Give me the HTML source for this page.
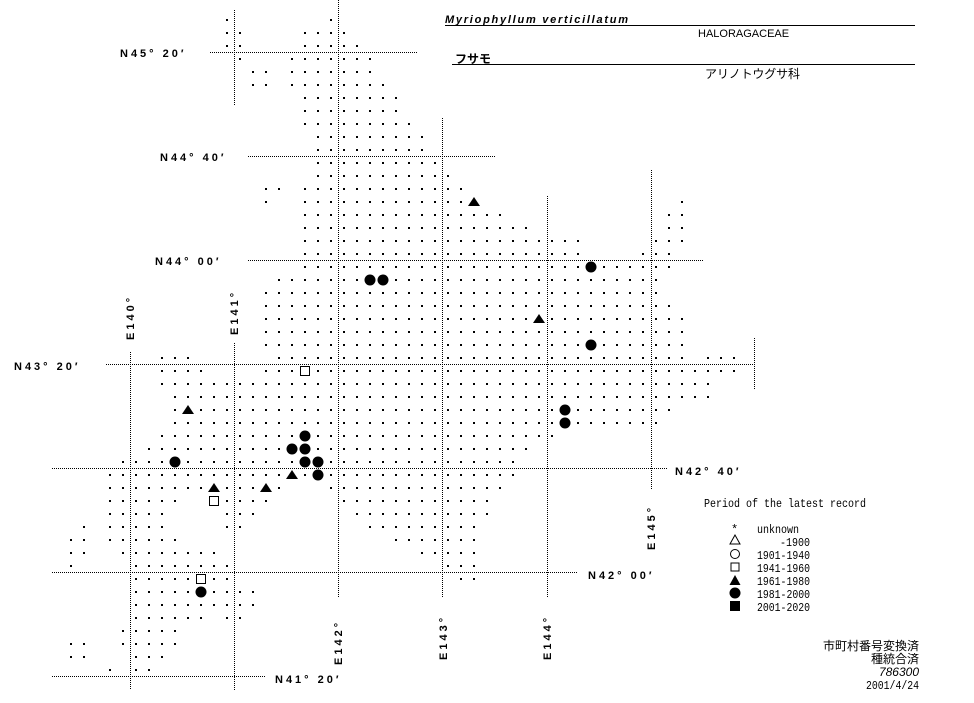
<!DOCTYPE html>
<html><head><meta charset="utf-8"><style>
html,body{margin:0;padding:0;background:#fff;}
svg{display:block}
.lab{font-family:"Liberation Sans",sans-serif;font-weight:bold;font-size:11px;letter-spacing:3px;fill:#000}
.mono{font-family:"Liberation Mono","Noto Sans CJK JP",monospace;font-size:12px;fill:#000}
.jp{font-family:"Liberation Sans","Noto Sans CJK JP",sans-serif;font-size:12px;fill:#000}
</style></head><body>
<svg id="s" width="974" height="703" viewBox="0 0 974 703" xmlns="http://www.w3.org/2000/svg">
<g stroke="#000" stroke-width="1" stroke-dasharray="1,1" fill="none">
<line x1="210" y1="52.5" x2="417" y2="52.5"/>
<line x1="248" y1="156.5" x2="495" y2="156.5"/>
<line x1="248" y1="260.5" x2="703" y2="260.5"/>
<line x1="106" y1="364.5" x2="754" y2="364.5"/>
<line x1="52" y1="468.5" x2="668" y2="468.5"/>
<line x1="52" y1="572.5" x2="577" y2="572.5"/>
<line x1="52" y1="676.5" x2="265" y2="676.5"/>
<line x1="130.5" y1="352" x2="130.5" y2="690"/>
<line x1="234.5" y1="10" x2="234.5" y2="105"/>
<line x1="234.5" y1="343" x2="234.5" y2="690"/>
<line x1="338.5" y1="0" x2="338.5" y2="598"/>
<line x1="442.5" y1="118" x2="442.5" y2="598"/>
<line x1="547.5" y1="196" x2="547.5" y2="598"/>
<line x1="651.5" y1="170" x2="651.5" y2="490"/>
<line x1="754.5" y1="338" x2="754.5" y2="390"/>
</g>
<g id="dots" fill="#000"></g>
<g id="sym" fill="#000"></g>
<text class="lab" x="120" y="57">N45° 20′</text>
<text class="lab" x="160" y="161">N44° 40′</text>
<text class="lab" x="155" y="265">N44° 00′</text>
<text class="lab" x="14" y="370">N43° 20′</text>
<text class="lab" x="675" y="475">N42° 40′</text>
<text class="lab" x="588" y="579">N42° 00′</text>
<text class="lab" x="275" y="683">N41° 20′</text>
<text class="lab" transform="translate(134,340) rotate(-90)">E140°</text>
<text class="lab" transform="translate(238,335) rotate(-90)">E141°</text>
<text class="lab" transform="translate(342,665) rotate(-90)">E142°</text>
<text class="lab" transform="translate(447,660) rotate(-90)">E143°</text>
<text class="lab" transform="translate(551,660) rotate(-90)">E144°</text>
<text class="lab" transform="translate(655,550) rotate(-90)">E145°</text>
<text x="445" y="23" font-family="Liberation Sans" font-weight="bold" font-style="italic" font-size="11" fill="#000" textLength="183">Myriophyllum verticillatum</text>
<line x1="445" y1="25.5" x2="915" y2="25.5" stroke="#000"/>
<text x="698" y="37" font-family="Liberation Sans" font-size="11" fill="#000">HALORAGACEAE</text>
<text class="jp" x="455" y="63" font-weight="bold">フサモ</text>
<line x1="452" y1="64.5" x2="915" y2="64.5" stroke="#000"/>
<text class="jp" x="705" y="78" textLength="95">アリノトウグサ科</text>
<text class="mono" x="704" y="507" textLength="162" lengthAdjust="spacingAndGlyphs">Period of the latest record</text>
<text class="mono" x="731" y="533">*</text>
<text class="mono" x="757" y="533" textLength="42" lengthAdjust="spacingAndGlyphs">unknown</text>
<text class="mono" x="810" y="546" text-anchor="end" textLength="30" lengthAdjust="spacingAndGlyphs">-1900</text>
<text class="mono" x="757" y="559" textLength="53" lengthAdjust="spacingAndGlyphs">1901-1940</text>
<text class="mono" x="757" y="572" textLength="53" lengthAdjust="spacingAndGlyphs">1941-1960</text>
<text class="mono" x="757" y="585" textLength="53" lengthAdjust="spacingAndGlyphs">1961-1980</text>
<text class="mono" x="757" y="598" textLength="53" lengthAdjust="spacingAndGlyphs">1981-2000</text>
<text class="mono" x="757" y="611" textLength="53" lengthAdjust="spacingAndGlyphs">2001-2020</text>
<polygon points="735,535 730,544 740,544" fill="none" stroke="#000"/>
<circle cx="735" cy="554" r="4.5" fill="none" stroke="#000"/>
<rect x="731" y="563" width="8" height="8" fill="none" stroke="#000"/>
<polygon points="735,575 729.5,585 740.5,585" fill="#000"/>
<circle cx="735" cy="593" r="5.5" fill="#000"/>
<rect x="730" y="601" width="10" height="10" fill="#000"/>
<text class="jp" x="919" y="650" text-anchor="end">市町村番号変換済</text>
<text class="jp" x="919" y="663" text-anchor="end">種統合済</text>
<text class="jp" x="919" y="676" text-anchor="end" font-style="italic">786300</text>
<text class="mono" x="919" y="689" text-anchor="end" textLength="53" lengthAdjust="spacingAndGlyphs">2001/4/24</text>
</svg>
<script>
var R={1:[[17,17],[25,25]],2:[[17,18],[23,26]],3:[[17,18],[23,27]],4:[[18,18],[22,28]],5:[[19,20],[22,28]],6:[[19,20],[22,29]],7:[[23,30]],8:[[23,30]],9:[[23,31]],10:[[24,32]],11:[[24,32]],12:[[24,33]],13:[[24,34]],14:[[20,21],[23,35]],15:[[20,20],[23,36],[52,52]],16:[[23,38],[51,52]],17:[[23,40],[51,52]],18:[[23,44],[50,52]],19:[[23,44],[49,51]],20:[[23,51]],21:[[21,50]],22:[[20,50]],23:[[20,51]],24:[[20,52]],25:[[20,52]],26:[[20,52]],27:[[12,14],[21,52],[54,56]],28:[[12,15],[20,56]],29:[[12,54]],30:[[13,54]],31:[[13,51]],32:[[13,50]],33:[[12,42]],34:[[11,40]],35:[[9,39]],36:[[8,39]],37:[[8,21],[25,38]],38:[[8,13],[16,20],[26,37]],39:[[8,12],[17,19],[27,37]],40:[[6,6],[8,12],[17,18],[28,36]],41:[[5,6],[8,13],[30,36]],42:[[5,6],[9,16],[32,36]],43:[[5,5],[10,17],[34,36]],44:[[10,17],[35,36]],45:[[10,19]],46:[[10,19]],47:[[10,15],[17,18]],48:[[9,13]],49:[[5,6],[9,13]],50:[[5,6],[10,12]],51:[[8,8],[10,11]]};
var circ=[[28,21],[29,21],[45,20],[45,26],[43,31],[43,32],[23,33],[22,34],[23,34],[23,35],[24,35],[24,36],[13,35],[15,45]];
var tri=[[36,15],[41,24],[14,31],[22,36],[16,37],[20,37]];
var sq=[[23,28],[16,38],[15,44]];
var occ={};[circ,tri,sq].forEach(function(a){a.forEach(function(p){occ[p[0]+','+p[1]]=1;});});
var ns="http://www.w3.org/2000/svg",d=document.getElementById('dots'),s=document.getElementById('sym');
function X(c){return 6+13*c;}function Y(r){return 7+13*r;}
function el(t,a,p){var e=document.createElementNS(ns,t);for(var k in a)e.setAttribute(k,a[k]);p.appendChild(e);}
for(var r in R){R[r].forEach(function(g){for(var c=g[0];c<=g[1];c++){if(occ[c+','+r])continue;el('rect',{x:X(c)-1,y:Y(+r)-1,width:2,height:2},d);}});}
circ.forEach(function(p){el('circle',{cx:X(p[0]),cy:Y(p[1]),r:5.5},s);});
tri.forEach(function(p){var x=X(p[0]),y=Y(p[1]);el('polygon',{points:(x)+','+(y-5)+' '+(x-6)+','+(y+4)+' '+(x+6)+','+(y+4)},s);});
sq.forEach(function(p){el('rect',{x:X(p[0])-4.5,y:Y(p[1])-4.5,width:9,height:9,fill:'none',stroke:'#000'},s);});
</script>
</body></html>
